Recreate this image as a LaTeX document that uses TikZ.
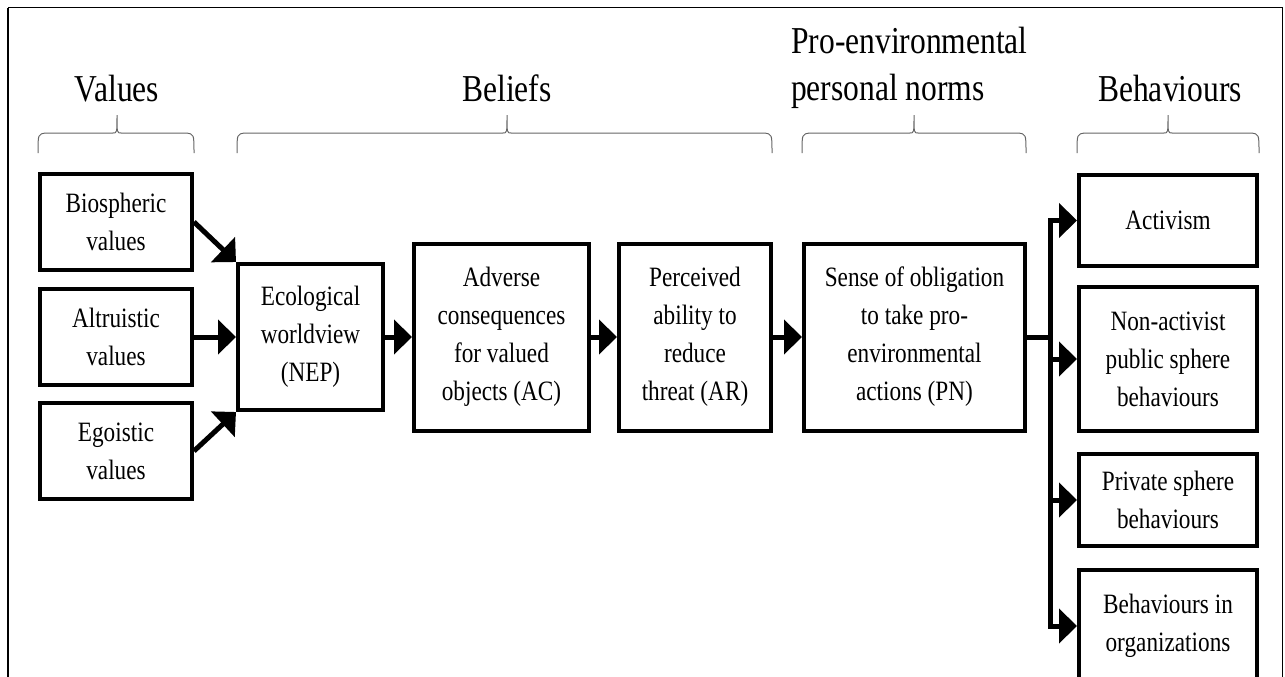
\documentclass[tikz,border=0pt]{standalone}
\usepackage{fontspec}
\setmainfont[FakeStretch=0.83]{Liberation Serif}
\usetikzlibrary{arrows.meta}

\tikzset{
  box/.style={rectangle,draw,line width=4pt,align=center,inner sep=0pt,
    font=\fontsize{28}{38}\selectfont},
  head/.style={inner sep=0pt,font=\fontsize{38}{47}\selectfont},
  link/.style={line width=5pt,-{Triangle[length=18pt,width=34pt]}},
  bar/.style={line width=5pt},
  brace/.style={black!60,line width=1pt}
}
\newcommand{\groupbrace}[3]{%
  \draw[brace] (#1,153) .. controls (#1,134) .. (#1+8,133) -- (#2-4,133)
    .. controls (#2,133) .. (#2,115) .. controls (#2,133) .. (#2+4,133)
    -- (#3-8,133) .. controls (#3,134) .. (#3,153);}

\begin{document}
\begin{tikzpicture}[x=1pt,y=-1pt]
		\useasboundingbox (0,0) rectangle (1285,677);
%		\draw[help lines,step=50] (0,0) grid (1285,677);
		\draw[line width=2pt] (8,677) -- (8,8);
		\draw[line width=1pt] (8,8) -- (1282,8) -- (1282,677);

		\path (116,222) coordinate (bio_c);
		\path (116,337) coordinate (alt_c);
		\path (116,451) coordinate (ego_c);
		\path (310.5,337) coordinate (nep_c);
		\path (501.5,337) coordinate (ac_c);
		\path (695,337) coordinate (ar_c);
		\path (914.5,337) coordinate (pn_c);
		\path (1050,337) coordinate (bus);
		\path (1168,220.5) coordinate (act_c);
		\path (1168,359) coordinate (nonact_c);
		\path (1168,500) coordinate (priv_c);
		\path (1168,626) coordinate (org_c);

		\node[head,anchor=base] (values_h) at (117,101) {Values};
		\node[head,anchor=base] (beliefs_h) at (507,101) {Beliefs};
		\node[head,anchor=base west,align=left] (norms_h) at (791,100)
			{Pro-environmental\\personal norms};
		\node[head,anchor=base] (behav_h) at (1170,101) {Behaviours};

		\groupbrace{38}{117}{194}
		\groupbrace{237}{507}{772}
		\groupbrace{802}{914}{1026}
		\groupbrace{1077}{1168}{1259}

		\node[box,minimum width=152pt,minimum height=96pt] (bio) at (bio_c) {Biospheric\\values};
		\node[box,minimum width=152pt,minimum height=96pt] (alt) at (alt_c) {Altruistic\\values};
		\node[box,minimum width=152pt,minimum height=96pt] (ego) at (ego_c) {Egoistic\\values};
		\node[box,minimum width=145pt,minimum height=146pt] (nep) at (nep_c) {Ecological\\worldview\\(NEP)};
		\node[box,minimum width=175pt,minimum height=187pt] (ac) at (ac_c)
			{Adverse\\consequences\\for valued\\objects (AC)};
		\node[box,minimum width=152pt,minimum height=187pt] (ar) at (ar_c)
			{Perceived\\ability to\\reduce\\threat (AR)};
		\node[box,minimum width=221pt,minimum height=187pt] (pn) at (pn_c)
			{Sense of obligation\\to take pro-\\environmental\\actions (PN)};
		\node[box,minimum width=178pt,minimum height=91pt] (act) at (act_c) {Activism};
		\node[box,minimum width=178pt,minimum height=144pt] (nonact) at (nonact_c)
			{Non-activist\\public sphere\\behaviours};
		\node[box,minimum width=178pt,minimum height=92pt] (priv) at (priv_c)
			{Private sphere\\behaviours};
		\node[box,minimum width=178pt,minimum height=112pt] (org) at (org_c)
			{Behaviours in\\organizations};

		\draw[link] (bio.east) -- (nep.north west);
		\draw[link] (alt.east) -- (nep.west);
		\draw[link] (ego.east) -- (nep.south west);
		\draw[link] (nep) -- (ac);
		\draw[link] (ac) -- (ar);
		\draw[link] (ar) -- (pn);
		\draw[bar] (pn.east) -- (bus);
		\foreach \b in {act,nonact,priv,org}
			\draw[link] (bus) |- (\b.west);
	\end{tikzpicture}
\end{document}
